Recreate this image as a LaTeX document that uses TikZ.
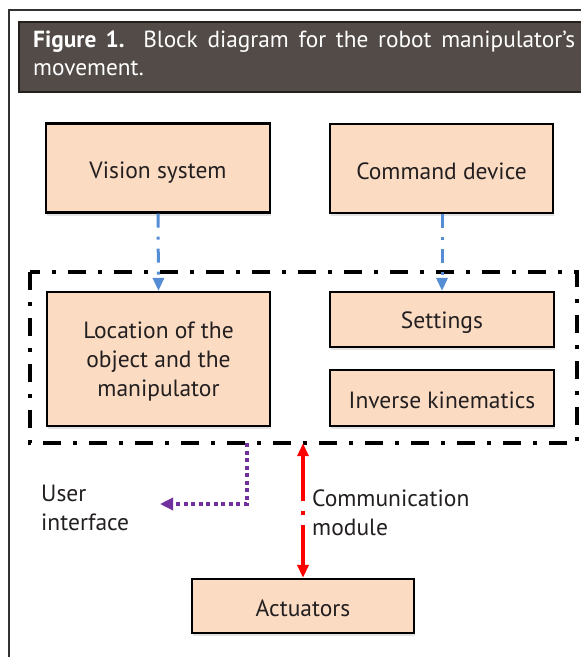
\documentclass[tikz,border=0pt]{standalone}
\usepackage{fontspec}
\setmainfont{PT Sans}
\usetikzlibrary{arrows.meta,shadows}
\definecolor{peach}{RGB}{251,220,195}
\definecolor{titlebg}{RGB}{82,75,72}
\definecolor{titleedge}{RGB}{35,32,30}
\definecolor{framegray}{RGB}{50,50,50}
\definecolor{arrowblue}{RGB}{84,141,212}
\definecolor{uipurple}{RGB}{112,48,160}
\definecolor{txt}{RGB}{35,31,32}
\tikzset{
  blockbox/.style={draw=black, line width=2.2pt, fill=peach, inner sep=0pt,
    drop shadow={shadow xshift=1pt, shadow yshift=-3pt, opacity=0.22}},
  boxtext/.style={text=txt, font=\fontsize{23.5}{29}\selectfont, align=center, inner sep=0pt},
  groupline/.style={draw=black, line width=4pt, dash pattern=on 18pt off 12pt on 4pt off 12pt},
  feedarrow/.style={draw=arrowblue, line width=3pt, dash pattern=on 14pt off 9pt on 3pt off 9pt,
    -{Triangle[length=13pt,width=11pt]}},
  uiarrow/.style={draw=uipurple, line width=4pt, dash pattern=on 4pt off 3.5pt,
    -{Triangle[length=13pt,width=12pt]}},
  commarrow/.style={draw=red, line width=3.5pt, dash pattern=on 46pt off 10pt on 4pt off 10pt,
    {Triangle[length=13pt,width=11pt]}-{Triangle[length=13pt,width=11pt]}},
  plainlabel/.style={text=txt, font=\fontsize{23.5}{29}\selectfont, align=left, inner sep=0pt}
}
\begin{document}
\begin{tikzpicture}[x=1pt,y=-1pt]
\useasboundingbox (0,0) rectangle (581,657);
% outer frame
\draw[framegray, line width=2pt] (9,660) -- (9,10) -- (585,10);
% title bar
\draw[fill=titlebg, draw=titleedge, line width=1.8pt] (19,22) rectangle (590,92);
\node[anchor=north west, text width=542pt, align=justify, text=white,
  font=\fontsize{23.3}{28}\selectfont, inner sep=0pt] (title) at (33,31)
  {\textbf{Figure 1.} Block diagram for the robot manipulator’s movement.};

% group container
\draw[groupline] (30,272) rectangle (577,443);
\node[inner sep=0pt, minimum width=547pt, minimum height=171pt] (group) at (303.5,357.5) {};

% blocks
\node[blockbox, minimum width=224pt, minimum height=89pt,
  label={[boxtext, yshift=-5pt]center:Vision system}] (vision) at (158,168) {};
\node[blockbox, minimum width=223pt, minimum height=89pt,
  label={[boxtext, yshift=-2.5pt]center:Command device}] (command) at (441.5,168.5) {};
\node[blockbox, minimum width=223pt, minimum height=134pt,
  label={[boxtext, yshift=-3pt]center:{Location of the\\object and the\\manipulator}}] (loc) at (158.5,359) {};
\node[blockbox, minimum width=224pt, minimum height=55pt,
  label={[boxtext, yshift=-3pt]center:Settings}] (settings) at (442,319.5) {};
\node[blockbox, minimum width=224pt, minimum height=56pt,
  label={[boxtext, yshift=-2.5pt]center:Inverse kinematics}] (ik) at (442,398) {};
\node[blockbox, minimum width=222pt, minimum height=54pt,
  label={[boxtext, yshift=-2pt]center:Actuators}] (act) at (303,606) {};

% connectors
\draw[feedarrow] (vision.south) -- (loc.north);
\draw[feedarrow] (command.south -| settings.north) -- (settings.north);

\coordinate (uicorner) at (247,504);
\coordinate (uiend) at (160,504);
\draw[uiarrow] (group.south -| uicorner) -- (uicorner) -- (uiend);

\draw[commarrow] (group.south -| act.north) -- (act.north);

% labels
\node[plainlabel, anchor=west] (uilabel) at (41,508) {User\\interface};
\node[plainlabel, anchor=west] (commlabel) at (312,513) {Communication\\module};
\end{tikzpicture}
\end{document}
